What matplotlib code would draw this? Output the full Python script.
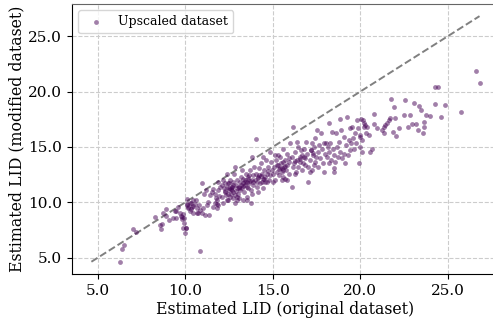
import matplotlib
matplotlib.use("Agg")
import numpy as np
from matplotlib import pyplot as plt

# ----------
# Data

lid_original = [
    6.26, 6.41, 6.49, 7.02, 7.21, 8.30, 8.55, 8.59, 8.68, 8.74, 8.89, 8.93, 9.06,
    9.31, 9.41, 9.47, 9.50, 9.60, 9.69, 9.75, 9.79, 9.83, 9.85, 9.88, 9.92, 9.94,
    9.98, 10.02, 10.04, 10.08, 10.15, 10.25, 10.35, 10.45,
    10.08, 10.17, 10.27, 10.36, 10.42, 10.55, 10.65, 10.69, 10.80, 10.46, 10.31, 10.12, 10.61,
    10.94, 11.07, 11.18, 11.32, 11.41, 11.51, 11.60, 11.70, 11.76, 11.79, 11.83, 11.89,
    11.95, 11.98, 11.22, 11.03, 10.84, 10.74, 10.94, 11.13, 11.37, 11.60, 11.70, 11.79,
    11.89, 10.84, 11.89,
    12.08, 12.14, 12.21, 12.27, 12.33, 12.37, 12.42, 12.48, 12.56, 12.56, 12.60, 12.65,
    12.71, 12.75, 12.79, 12.84, 12.90, 12.94, 12.98, 12.18, 12.46, 12.75, 12.84, 12.94,
    12.52, 12.29, 12.56, 12.84, 12.98, 12.10, 12.37, 12.65, 12.75, 12.46, 12.37, 12.60,
    12.70, 12.88, 12.50, 12.25,
    13.03, 13.09, 13.13, 13.17, 13.23, 13.28, 13.32, 13.36, 13.42, 13.47, 13.51, 13.55,
    13.61, 13.66, 13.70, 13.74, 13.80, 13.85, 13.89, 13.93, 13.74, 13.51, 13.99, 13.09,
    13.23, 13.42, 13.61, 13.80, 13.89, 13.13, 13.66, 13.32, 13.55, 13.80, 13.20, 13.40,
    13.58, 13.72, 13.05, 13.30,
    14.05, 14.05, 14.08, 14.12, 14.18, 14.24, 14.27, 14.31, 14.37, 14.43, 14.47, 14.50,
    14.56, 14.62, 14.66, 14.75, 14.81, 14.85, 14.89, 14.95, 15.00, 14.56, 14.37, 14.18,
    14.66, 14.85, 14.47, 14.15, 14.35, 14.70, 14.22, 14.52,
    15.04, 15.08, 15.13, 15.19, 15.23, 15.27, 15.32, 15.38, 15.42, 15.46, 15.51, 15.57,
    15.61, 15.65, 15.71, 15.76, 15.80, 15.84, 15.90, 15.95, 15.99, 16.10, 15.51, 15.32,
    15.71, 15.42, 15.90, 15.13, 15.61, 15.84, 15.55, 15.70, 15.35, 15.60,
    16.09, 16.15, 16.18, 16.22, 16.28, 16.34, 16.37, 16.41, 16.47, 16.53, 16.56, 16.60,
    16.66, 16.72, 16.76, 16.79, 16.85, 16.91, 16.95, 16.99, 16.47, 16.28, 16.66, 16.85,
    16.25, 16.58,
    17.04, 17.10, 17.14, 17.18, 17.23, 17.29, 17.33, 17.37, 17.42, 17.48, 17.52, 17.56,
    17.61, 17.67, 17.71, 17.75, 17.81, 17.86, 17.90, 17.94, 17.99, 17.23, 17.42, 17.20,
    17.30,
    18.05, 18.09, 18.13, 18.19, 18.24, 18.28, 18.32, 18.38, 18.44, 18.47, 18.51, 18.57,
    18.63, 18.66, 18.70, 18.76, 18.82, 18.85, 18.89, 18.95, 18.47, 18.19,
    19.05, 19.08, 19.14, 19.20, 19.24, 19.27, 19.33, 19.39, 19.43, 19.47, 19.52, 19.58,
    19.62, 19.71, 19.77, 19.81, 19.85, 19.90, 19.96, 20.00,
    20.04, 20.09, 20.15, 20.19, 20.23, 20.29, 20.34, 20.38, 20.48, 20.57, 20.67, 20.76,
    20.80, 20.09, 19.96, 20.95,
    21.24, 21.34, 21.43, 21.53, 21.62, 21.68, 21.77, 21.87, 21.95, 22.00, 21.34,
    22.06, 22.19, 22.48, 22.58, 22.71, 22.86, 22.96, 23.05, 23.21, 23.28, 23.34, 23.47,
    23.59, 23.66, 23.66, 23.78, 24.00,
    24.29, 24.44, 24.29, 24.61, 24.86, 25.76, 26.62, 26.81,
]

lid_modified = [
    4.64, 5.81, 6.11, 7.62, 7.32, 8.64, 7.92, 7.62, 8.04, 9.03, 9.42, 8.73, 8.43,
    8.55, 9.18, 9.24, 8.58, 9.54, 9.03, 8.73, 8.70, 8.52, 7.65, 8.94, 8.55, 8.13,
    7.23, 7.68, 7.65, 9.78, 9.55, 9.95, 9.40, 9.70,
    9.84, 9.45, 9.24, 9.60, 10.20, 9.84, 9.45, 9.00, 9.75, 9.00, 9.90, 10.26, 10.20,
    11.71, 10.80, 11.11, 10.05, 10.65, 10.95, 11.17, 10.80, 10.35, 10.20, 9.84, 11.11,
    10.56, 11.41, 9.75, 9.45, 9.30, 9.06, 9.00, 8.85, 8.85, 9.60, 9.90, 9.45,
    9.75, 5.63, 11.86,
    11.56, 12.00, 11.26, 10.95, 10.65, 11.41, 11.77, 11.10, 8.46, 10.50, 10.80, 11.41,
    11.86, 10.95, 12.60, 10.65, 11.56, 11.26, 12.00, 9.90, 10.20, 10.35, 9.90, 10.20,
    11.71, 11.71, 12.00, 13.20, 10.50, 10.50, 10.20, 11.10, 11.56, 10.80, 12.60, 11.20,
    11.40, 11.00, 11.30, 11.00,
    10.80, 11.41, 11.86, 12.30, 11.26, 11.71, 10.20, 10.95, 12.00, 12.60, 11.41, 10.50,
    12.30, 11.71, 12.90, 11.11, 12.00, 12.45, 11.56, 13.20, 9.96, 10.20, 12.00, 10.35,
    12.90, 11.56, 11.26, 14.11, 11.86, 11.11, 12.45, 12.15, 11.86, 10.80, 11.60, 11.80,
    12.10, 11.90, 11.30, 11.50,
    15.68, 12.60, 11.86, 11.41, 12.30, 13.06, 11.71, 13.51, 12.60, 12.15, 11.26, 12.90,
    11.86, 13.81, 12.60, 13.20, 12.00, 12.45, 13.66, 12.90, 11.86, 12.30, 11.86, 10.95,
    11.86, 14.56, 14.11, 12.20, 12.40, 12.80, 12.50, 12.10,
    12.60, 13.20, 12.00, 13.81, 12.75, 13.36, 14.26, 12.45, 13.06, 13.51, 12.75, 14.86,
    12.30, 13.20, 13.81, 12.90, 14.41, 13.36, 12.60, 13.66, 15.32, 11.41, 12.00, 13.36,
    12.15, 14.11, 13.96, 14.26, 13.66, 12.00, 13.10, 13.30, 13.00, 12.90,
    14.11, 13.20, 16.82, 13.51, 14.56, 12.75, 13.81, 15.47, 13.20, 14.11, 13.66, 14.71,
    12.90, 13.51, 14.86, 14.11, 13.36, 15.47, 14.41, 13.20, 15.02, 12.60, 14.26, 13.96,
    13.70, 13.90,
    11.86, 12.75, 13.81, 14.71, 15.32, 14.26, 13.36, 15.02, 15.77, 14.11, 16.52, 14.56,
    13.20, 15.17, 13.96, 16.22, 14.86, 13.51, 15.32, 12.75, 14.41, 12.90, 13.66, 14.70,
    14.50,
    15.32, 14.11, 15.02, 14.56, 17.12, 15.32, 13.81, 16.37, 14.86, 14.26, 12.75, 13.66,
    16.22, 15.02, 14.11, 15.47, 14.56, 17.57, 16.52, 13.96, 13.06, 13.51,
    15.92, 14.41, 13.51, 15.17, 17.72, 14.26, 15.62, 14.71, 16.67, 15.32, 16.82, 15.77,
    14.86, 16.22, 15.32, 17.42, 16.67, 13.57, 16.07, 15.02,
    17.57, 15.62, 17.42, 17.12, 16.82, 16.97, 16.22, 16.82, 16.07, 14.56, 14.86, 18.02,
    17.06, 14.56, 15.92, 16.73,
    16.52, 16.28, 16.97, 17.12, 17.42, 17.66, 19.29, 16.37, 18.62, 17.66, 16.82,
    15.98, 16.67, 17.87, 19.23, 16.76, 17.87, 17.06, 18.99, 17.06, 16.52, 18.68, 18.32,
    16.28, 16.82, 17.27, 17.87, 17.78,
    20.37, 20.40, 18.92, 17.72, 18.77, 18.17, 21.87, 20.82,
]

legend_label = "Upscaled dataset"
x_label = "Estimated LID (original dataset)"
y_label = "Estimated LID (modified dataset)"

x = np.array(lid_original)
y = np.array(lid_modified)

# ----------
# Plot

plt.rcParams['font.family'] = ['DejaVu Serif']

fig = plt.figure(figsize=(4.93, 3.22), dpi=100)
ax = fig.add_axes([0.146, 0.149, 0.866, 0.839])

ax.scatter(x, y, s=12, color='#440154', alpha=0.5, linewidths=0, label=legend_label, zorder=3)

lo = min(x.min(), y.min())
hi = max(x.max(), y.max())
ax.plot([lo, hi], [lo, hi], linestyle='--', color='gray', linewidth=1.4, zorder=2)

ax.set_xticks([5, 10, 15, 20, 25])
ax.set_yticks([5, 10, 15, 20, 25])
ax.xaxis.set_major_formatter(matplotlib.ticker.FormatStrFormatter('%.1f'))
ax.yaxis.set_major_formatter(matplotlib.ticker.FormatStrFormatter('%.1f'))
ax.tick_params(labelsize=11)
ax.grid(True, linestyle='--', color='#cccccc', linewidth=0.8, zorder=0)
ax.set_axisbelow(True)
ax.spines['top'].set_color('#666666')
ax.spines['right'].set_visible(False)  # cut off in the reference

ax.set_xlabel(x_label, fontsize=11.3, labelpad=2)
ax.set_ylabel(y_label, fontsize=11.3, labelpad=2)
ax.legend(loc='upper left', fontsize=9)

fig.savefig('out.png', dpi=100)
